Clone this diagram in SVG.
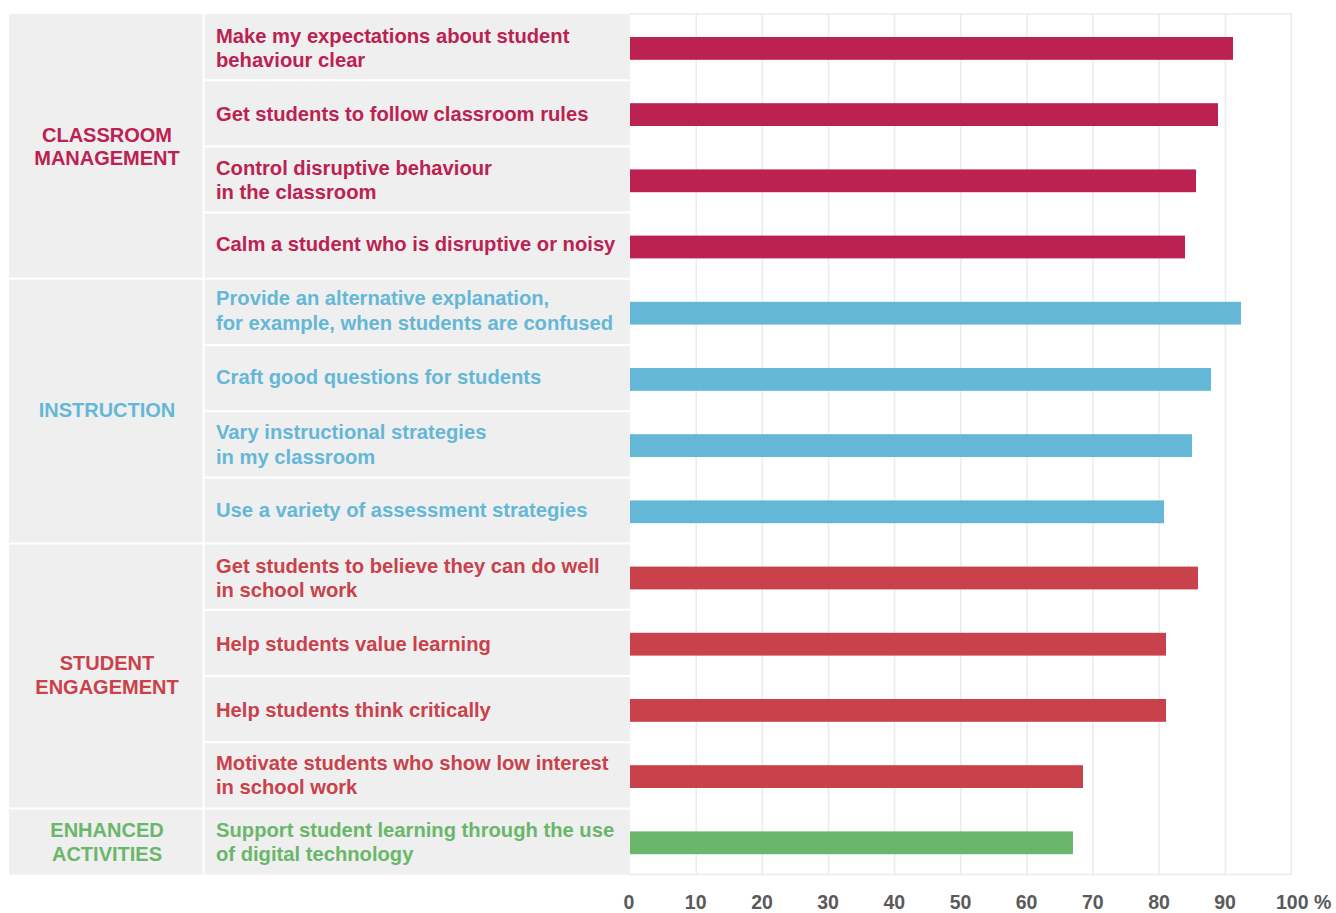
<svg xmlns="http://www.w3.org/2000/svg" width="1336" height="913" viewBox="0 0 1336 913">
<style>
text{font-family:"Liberation Sans",Arial,sans-serif;font-weight:bold}
.lbl{font-size:20.2px}
.cat{font-size:20px;text-anchor:middle}
.ax{font-size:19.5px;fill:#5A5A5A;text-anchor:middle}
.cm{fill:#BB2251}
.in{fill:#64B7D7}
.se{fill:#C9414B}
.ea{fill:#6AB66A}
.grid{stroke:#EBEBEB;stroke-width:1.5;fill:none}
.sep{stroke:#FFFFFF;stroke-width:2;fill:none}
</style>
<rect width="1336" height="913" fill="#FFFFFF"/>
<g id="table-background">
<rect x="9" y="14" width="621" height="860.6" fill="#EFEFEF"/>
<line class="sep" x1="203.5" y1="14" x2="203.5" y2="874.6"/>
<line class="sep" x1="9" y1="278.8" x2="630" y2="278.8"/>
<line class="sep" x1="9" y1="543.6" x2="630" y2="543.6"/>
<line class="sep" x1="9" y1="808.4" x2="630" y2="808.4"/>
<line class="sep" x1="204" y1="80.2" x2="630" y2="80.2"/>
<line class="sep" x1="204" y1="146.4" x2="630" y2="146.4"/>
<line class="sep" x1="204" y1="212.6" x2="630" y2="212.6"/>
<line class="sep" x1="204" y1="345" x2="630" y2="345"/>
<line class="sep" x1="204" y1="411.2" x2="630" y2="411.2"/>
<line class="sep" x1="204" y1="477.4" x2="630" y2="477.4"/>
<line class="sep" x1="204" y1="609.8" x2="630" y2="609.8"/>
<line class="sep" x1="204" y1="676" x2="630" y2="676"/>
<line class="sep" x1="204" y1="742.2" x2="630" y2="742.2"/>
</g>
<g id="grid">
<line class="grid" x1="630" y1="14" x2="1291.5" y2="14"/>
<line class="grid" x1="630" y1="874.6" x2="1291.5" y2="874.6"/>
<line class="grid" x1="696.2" y1="14" x2="696.2" y2="874.6"/>
<line class="grid" x1="762.3" y1="14" x2="762.3" y2="874.6"/>
<line class="grid" x1="828.5" y1="14" x2="828.5" y2="874.6"/>
<line class="grid" x1="894.6" y1="14" x2="894.6" y2="874.6"/>
<line class="grid" x1="960.8" y1="14" x2="960.8" y2="874.6"/>
<line class="grid" x1="1026.9" y1="14" x2="1026.9" y2="874.6"/>
<line class="grid" x1="1093.1" y1="14" x2="1093.1" y2="874.6"/>
<line class="grid" x1="1159.2" y1="14" x2="1159.2" y2="874.6"/>
<line class="grid" x1="1225.4" y1="14" x2="1225.4" y2="874.6"/>
<line class="grid" x1="1291.5" y1="14" x2="1291.5" y2="874.6"/>
</g>
<g id="categories">
<g id="cat-classroom-management"><text class="cat cm" x="107" y="141.5">CLASSROOM</text><text class="cat cm" x="107" y="165">MANAGEMENT</text></g>
<g id="cat-instruction"><text class="cat in" x="107" y="416.5">INSTRUCTION</text></g>
<g id="cat-student-engagement"><text class="cat se" x="107" y="670">STUDENT</text><text class="cat se" x="107" y="694">ENGAGEMENT</text></g>
<g id="cat-enhanced-activities"><text class="cat ea" x="107" y="836.7">ENHANCED</text><text class="cat ea" x="107" y="861">ACTIVITIES</text></g>
</g>
<g id="rows">
<g id="row1"><text class="lbl cm" x="216" y="43.3">Make my expectations about student</text><text class="lbl cm" x="216" y="67.3">behaviour clear</text><rect class="cm" x="630" y="37" width="603" height="22.8"/></g>
<g id="row2"><text class="lbl cm" x="216" y="120.6">Get students to follow classroom rules</text><rect class="cm" x="630" y="103.2" width="588" height="22.8"/></g>
<g id="row3"><text class="lbl cm" x="216" y="175">Control disruptive behaviour</text><text class="lbl cm" x="216" y="199.2">in the classroom</text><rect class="cm" x="630" y="169.4" width="566" height="22.8"/></g>
<g id="row4"><text class="lbl cm" x="216" y="250.7">Calm a student who is disruptive or noisy</text><rect class="cm" x="630" y="235.6" width="555" height="22.8"/></g>
<g id="row5"><text class="lbl in" x="216" y="304.7">Provide an alternative explanation,</text><text class="lbl in" x="216" y="329.7">for example, when students are confused</text><rect class="in" x="630" y="301.8" width="611" height="22.8"/></g>
<g id="row6"><text class="lbl in" x="216" y="384">Craft good questions for students</text><rect class="in" x="630" y="368" width="581" height="22.8"/></g>
<g id="row7"><text class="lbl in" x="216" y="439">Vary instructional strategies</text><text class="lbl in" x="216" y="464">in my classroom</text><rect class="in" x="630" y="434.2" width="562" height="22.8"/></g>
<g id="row8"><text class="lbl in" x="216" y="516.7">Use a variety of assessment strategies</text><rect class="in" x="630" y="500.4" width="534" height="22.8"/></g>
<g id="row9"><text class="lbl se" x="216" y="573.3">Get students to believe they can do well</text><text class="lbl se" x="216" y="597.3">in school work</text><rect class="se" x="630" y="566.6" width="568" height="22.8"/></g>
<g id="row10"><text class="lbl se" x="216" y="651">Help students value learning</text><rect class="se" x="630" y="632.8" width="536" height="22.8"/></g>
<g id="row11"><text class="lbl se" x="216" y="716.7">Help students think critically</text><rect class="se" x="630" y="699" width="536" height="22.8"/></g>
<g id="row12"><text class="lbl se" x="216" y="770">Motivate students who show low interest</text><text class="lbl se" x="216" y="794.3">in school work</text><rect class="se" x="630" y="765.2" width="453" height="22.8"/></g>
<g id="row13"><text class="lbl ea" x="216" y="836.7">Support student learning through the use</text><text class="lbl ea" x="216" y="861.3">of digital technology</text><rect class="ea" x="630" y="831.4" width="443" height="22.8"/></g>
</g>
<g id="axis">
<text class="ax" x="629" y="908.5">0</text>
<text class="ax" x="695.7" y="908.5">10</text>
<text class="ax" x="762" y="908.5">20</text>
<text class="ax" x="828" y="908.5">30</text>
<text class="ax" x="894.3" y="908.5">40</text>
<text class="ax" x="960.5" y="908.5">50</text>
<text class="ax" x="1026.6" y="908.5">60</text>
<text class="ax" x="1092.8" y="908.5">70</text>
<text class="ax" x="1159" y="908.5">80</text>
<text class="ax" x="1225" y="908.5">90</text>
<text class="ax" x="1276" y="908.5" style="text-anchor:start">100 %</text>
</g>
</svg>
